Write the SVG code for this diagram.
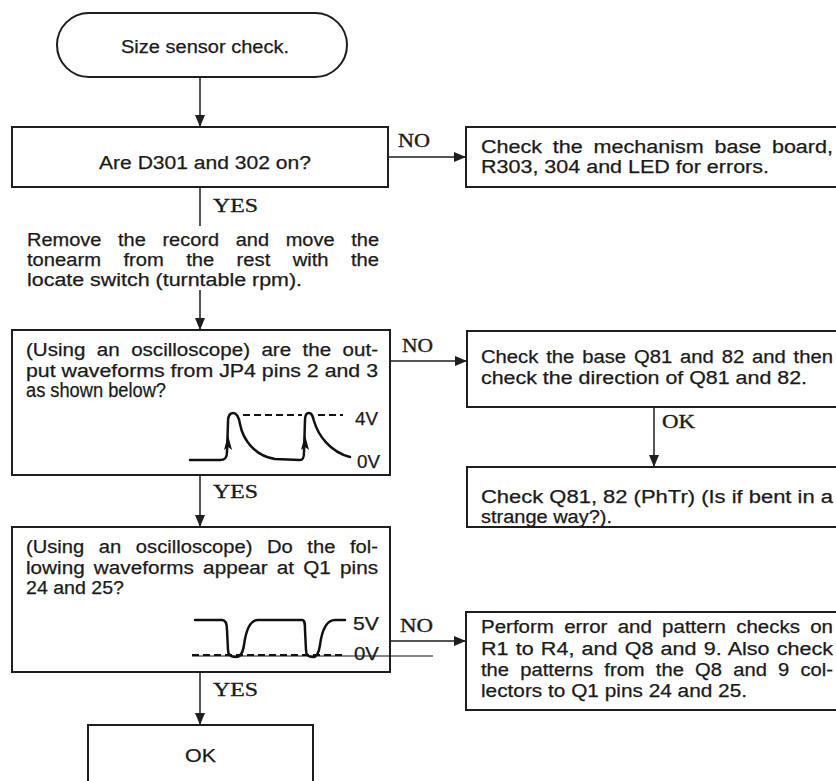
<svg xmlns="http://www.w3.org/2000/svg" width="836" height="781" viewBox="0 0 836 781">
<style>
.box{fill:none;stroke:#1e1e1e;stroke-width:2}
.t{font-family:"Liberation Sans",Arial,sans-serif;font-size:18px;fill:#1a1a1a;stroke:#1a1a1a;stroke-width:0.25}
.lbl{font-family:"Liberation Serif","Times New Roman",serif;font-size:18px;fill:#1a1a1a;stroke:#1a1a1a;stroke-width:0.3}
.conn{stroke:#1e1e1e;stroke-width:1.5;fill:none}
.wave{stroke:#111;stroke-width:2.5;fill:none;stroke-linecap:round}
.dash{stroke:#111;stroke-width:2;stroke-dasharray:7 4;fill:none}
</style>
<defs>
<marker id="ah" viewBox="0 0 12 10" refX="12" refY="5" markerWidth="12" markerHeight="10" markerUnits="userSpaceOnUse" orient="auto"><path d="M0,0 L12,5 L0,10 z" fill="#1e1e1e"/></marker>
</defs>
<rect width="836" height="781" fill="#fff"/>

<g id="connectors">
<line class="conn" x1="200" y1="77" x2="200" y2="127" marker-end="url(#ah)"/>
<line class="conn" x1="388" y1="157" x2="466" y2="157" marker-end="url(#ah)"/>
<line class="conn" x1="200" y1="187" x2="200" y2="226"/>
<line class="conn" x1="200" y1="290" x2="200" y2="330" marker-end="url(#ah)"/>
<line class="conn" x1="390" y1="361" x2="467" y2="361" marker-end="url(#ah)"/>
<line class="conn" x1="654" y1="407" x2="654" y2="467" marker-end="url(#ah)"/>
<line class="conn" x1="200" y1="475" x2="200" y2="527" marker-end="url(#ah)"/>
<line class="conn" x1="390" y1="641" x2="466" y2="641" marker-end="url(#ah)"/>
<line class="conn" x1="200" y1="672" x2="200" y2="725" marker-end="url(#ah)"/>
<text class="lbl" x="398" y="147" textLength="32" lengthAdjust="spacingAndGlyphs">NO</text>
<text class="lbl" x="213" y="212" textLength="45" lengthAdjust="spacingAndGlyphs">YES</text>
<text class="lbl" x="402" y="352" textLength="31" lengthAdjust="spacingAndGlyphs">NO</text>
<text class="lbl" x="662" y="428" textLength="33" lengthAdjust="spacingAndGlyphs">OK</text>
<text class="lbl" x="213" y="498" textLength="45" lengthAdjust="spacingAndGlyphs">YES</text>
<text class="lbl" x="400" y="632" textLength="33" lengthAdjust="spacingAndGlyphs">NO</text>
<text class="lbl" x="213" y="696" textLength="45" lengthAdjust="spacingAndGlyphs">YES</text>
</g>

<g id="start">
<rect class="box" x="57" y="13" width="290" height="64" rx="32" ry="32"/>
<text class="t" x="121" y="53" textLength="168" lengthAdjust="spacingAndGlyphs">Size sensor check.</text>
</g>

<g id="q-d301">
<rect class="box" x="12" y="127" width="376" height="60"/>
<text class="t" x="99" y="169" textLength="212" lengthAdjust="spacingAndGlyphs">Are D301 and 302 on?</text>
</g>

<g id="check-base-board">
<rect class="box" x="466" y="127" width="380" height="60"/>
<text class="t" x="481" y="153" textLength="352" lengthAdjust="spacingAndGlyphs" word-spacing="4">Check the mechanism base board,</text>
<text class="t" x="481" y="173" textLength="288" lengthAdjust="spacingAndGlyphs">R303, 304 and LED for errors.</text>
</g>

<g id="remove-record">
<text class="t" x="27" y="246" textLength="352" lengthAdjust="spacingAndGlyphs" word-spacing="10">Remove the record and move the</text>
<text class="t" x="27" y="266" textLength="352" lengthAdjust="spacingAndGlyphs" word-spacing="15">tonearm from the rest with the</text>
<text class="t" x="27" y="286" textLength="275" lengthAdjust="spacingAndGlyphs">locate switch (turntable rpm).</text>
</g>

<g id="q-jp4">
<rect class="box" x="12" y="330" width="378" height="145"/>
<text class="t" x="26" y="356" textLength="352" lengthAdjust="spacingAndGlyphs" word-spacing="5">(Using an oscilloscope) are the out-</text>
<text class="t" x="26" y="377" textLength="352" lengthAdjust="spacingAndGlyphs">put waveforms from JP4 pins 2 and 3</text>
<text class="t" x="26" y="397" textLength="140" lengthAdjust="spacingAndGlyphs" style="font-size:20px">as shown below?</text>
<line class="dash" x1="243" y1="415" x2="302" y2="415"/>
<line class="dash" x1="318" y1="415" x2="343" y2="415"/>
<path class="wave" d="M190,460 L220,460 C225,460 227,458 227,452 L228,422 C228,416 230,413 233,413 C237,413 239,418 240,424 C243,440 255,456 275,459 L300,460 C303,460 304,458 304,452 L305,420 C305,415 307,413 309,413 C312,413 313,417 314,421 C318,435 330,452 350,457"/>
<path d="M224,450 L228,435 L232,450 L228,447 z" fill="#111"/>
<path d="M301,450 L305,435 L309,450 L305,447 z" fill="#111"/>
<text class="t" x="355" y="425" textLength="23" lengthAdjust="spacingAndGlyphs">4V</text>
<text class="t" x="357" y="468" textLength="23" lengthAdjust="spacingAndGlyphs">0V</text>
</g>

<g id="check-base-q81">
<rect class="box" x="467" y="331" width="380" height="76"/>
<text class="t" x="481" y="363" textLength="352" lengthAdjust="spacingAndGlyphs" word-spacing="2">Check the base Q81 and 82 and then</text>
<text class="t" x="481" y="384" textLength="326" lengthAdjust="spacingAndGlyphs">check the direction of Q81 and 82.</text>
</g>

<g id="check-phtr">
<rect class="box" x="467" y="467" width="380" height="60"/>
<text class="t" x="481" y="503" textLength="352" lengthAdjust="spacingAndGlyphs">Check Q81, 82 (PhTr) (Is if bent in a</text>
<text class="t" x="481" y="523" textLength="131" lengthAdjust="spacingAndGlyphs">strange way?).</text>
</g>

<g id="q-q1">
<rect class="box" x="12" y="527" width="378" height="145"/>
<text class="t" x="26" y="553" textLength="352" lengthAdjust="spacingAndGlyphs" word-spacing="8">(Using an oscilloscope) Do the fol-</text>
<text class="t" x="26" y="574" textLength="352" lengthAdjust="spacingAndGlyphs" word-spacing="3">lowing waveforms appear at Q1 pins</text>
<text class="t" x="26" y="594" textLength="98" lengthAdjust="spacingAndGlyphs">24 and 25?</text>
<line x1="192" y1="656" x2="433" y2="656" stroke="#111" stroke-width="1.2"/>
<line class="dash" x1="192" y1="655" x2="345" y2="655"/>
<path class="wave" d="M195,620 L222,620 C226,620 227,624 227,630 L228,650 C228,656 232,657 236,657 C241,657 243,652 244,645 C246,630 250,620 258,620 L302,620 C305,620 305,624 305,630 L306,650 C306,656 309,657 313,657 C317,657 319,652 320,645 C322,630 327,620 335,620 L345,620"/>
<text class="t" x="353" y="630" textLength="26" lengthAdjust="spacingAndGlyphs">5V</text>
<text class="t" x="354" y="660" textLength="25" lengthAdjust="spacingAndGlyphs">0V</text>
</g>

<g id="check-patterns">
<rect class="box" x="466" y="612" width="380" height="98"/>
<text class="t" x="481" y="633" textLength="352" lengthAdjust="spacingAndGlyphs" word-spacing="4">Perform error and pattern checks on</text>
<text class="t" x="481" y="655" textLength="352" lengthAdjust="spacingAndGlyphs" word-spacing="1">R1 to R4, and Q8 and 9. Also check</text>
<text class="t" x="481" y="676" textLength="352" lengthAdjust="spacingAndGlyphs" word-spacing="5">the patterns from the Q8 and 9 col-</text>
<text class="t" x="481" y="697" textLength="266" lengthAdjust="spacingAndGlyphs">lectors to Q1 pins 24 and 25.</text>
</g>

<g id="ok">
<rect class="box" x="88" y="725" width="225" height="70"/>
<text class="t" x="185" y="762" textLength="31" lengthAdjust="spacingAndGlyphs">OK</text>
</g>
</svg>
